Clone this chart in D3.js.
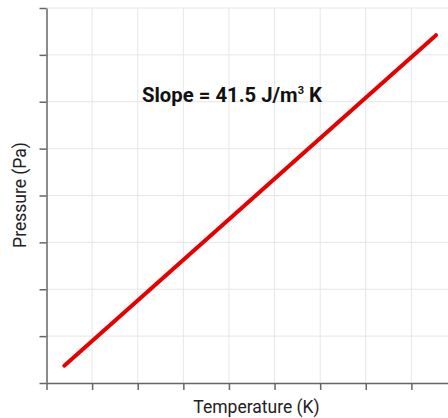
<!DOCTYPE html>
<html>
<head>
<meta charset="utf-8">
<script src="https://cdn.jsdelivr.net/npm/d3@7"></script>
<style>
  body { margin: 0; background: #fff; }
  text { font-family: Roboto, "Noto Sans", sans-serif; }
</style>
</head>
<body>
<svg id="svgfield" width="448" height="418"></svg>
<script>
// data (axes carry no numbers)
var temperature = [0.39, 8.54];
var pressure = [0.37, 7.42];
var xTickVals = [0, 1, 2, 3, 4, 5, 6, 7, 8, 9];
var yTickVals = [0, 1, 2, 3, 4, 5, 6, 7, 8];
var slopeLabel = "Slope = 41.5 J/m";

var svg = d3.select("#svgfield");

var x = d3.scaleLinear().domain([0, 9]).range([46.5, 457]);
var y = d3.scaleLinear().domain([0, 8]).range([383, 8]);

// grid
var grid = svg.append("g");
grid.selectAll("line.v").data(xTickVals.slice(1)).enter().append("line")
    .attr("x1", d => x(d)).attr("x2", d => x(d))
    .attr("y1", y(8)).attr("y2", y(0))
    .attr("stroke", "#e6e6e6").attr("stroke-width", 1);
grid.selectAll("line.h").data(yTickVals.slice(1)).enter().append("line")
    .attr("x1", x(0)).attr("x2", 448)
    .attr("y1", d => y(d)).attr("y2", d => y(d))
    .attr("stroke", "#e6e6e6").attr("stroke-width", 1);

// axes
var xaxis = d3.axisBottom(x).tickValues(xTickVals).tickSize(7).tickFormat("").tickSizeOuter(0);
var yaxis = d3.axisLeft(y).tickValues(yTickVals).tickSize(7).tickFormat("").tickSizeOuter(0);

var gx = svg.append("g").attr("transform", "translate(0," + y(0) + ")").call(xaxis);
var gy = svg.append("g").attr("transform", "translate(" + x(0) + ",0)").call(yaxis);
[gx, gy].forEach(function(g) {
    g.select(".domain").attr("stroke", "#666").attr("stroke-width", 1.5);
    g.selectAll(".tick line").attr("stroke", "#666").attr("stroke-width", 1.5);
});

// the line
var line = d3.line().x(d => x(d[0])).y(d => y(d[1]));
svg.append("path")
    .datum(d3.zip(temperature, pressure))
    .attr("d", line)
    .attr("fill", "none")
    .attr("stroke", "#e60000")
    .attr("stroke-width", 4)
    .attr("stroke-linecap", "round");

// annotation
var t = svg.append("text").attr("x", 142).attr("y", 102)
    .attr("font-size", 20.3).attr("font-weight", "bold").attr("fill", "#111");
t.append("tspan").text(slopeLabel);
t.append("tspan").attr("font-size", 11).attr("dy", -8).text("3");
t.append("tspan").attr("dy", 8).text(" K");

// axis labels
svg.append("text").attr("x", 256.5).attr("y", 413)
    .attr("text-anchor", "middle").attr("font-size", 17.5).attr("fill", "#222")
    .text("Temperature (K)");
svg.append("text").attr("transform", "translate(26,195) rotate(-90)")
    .attr("text-anchor", "middle").attr("font-size", 17.5).attr("fill", "#222")
    .text("Pressure (Pa)");
</script>
</body>
</html>
